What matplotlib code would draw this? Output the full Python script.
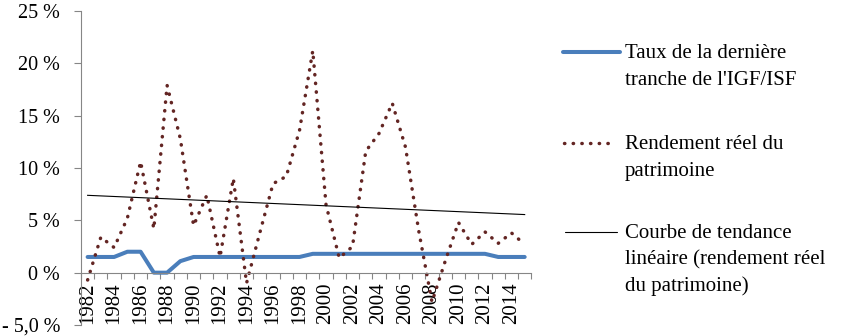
import numpy as np
import matplotlib
matplotlib.use('Agg')
import matplotlib.pyplot as plt
from matplotlib.lines import Line2D

plt.rcParams['font.family'] = ['Liberation Serif', 'DejaVu Serif']

# Data
years = np.arange(1982, 2016)
igf_isf = [1.5, 1.5, 1.5, 2.0, 2.0, 0.0, 0.0, 1.1, 1.5, 1.5, 1.5, 1.5, 1.5, 1.5, 1.5, 1.5, 1.5,
           1.8, 1.8, 1.8, 1.8, 1.8, 1.8, 1.8, 1.8, 1.8, 1.8, 1.8, 1.8, 1.8, 1.8,
           1.5, 1.5, 1.5]
rendement = [-0.7, 3.4, 2.4, 5.2, 10.6, 4.2, 17.9, 12.8, 4.5, 7.4, 1.5, 9.0, -1.0, 3.8,
             8.5, 9.2, 13.6, 21.2, 6.5, 1.4, 2.5, 11.6, 13.3, 16.2, 12.0, 4.0, -2.8, 1.1,
             4.8, 2.7, 3.9, 2.8, 3.8, 2.7]
ytick_vals = [-5, 0, 5, 10, 15, 20, 25]
ytick_labels = ['- 5,0 %', '0 %', '5 %', '10 %', '15 %', '20 %', '25 %']
legend_labels = ["Taux de la dernière\ntranche de l'IGF/ISF",
                 "Rendement réel du\npatrimoine",
                 "Courbe de tendance\nlinéaire (rendement réel\ndu patrimoine)"]

blue = '#4a7ebb'
maroon = '#632523'
grey = '#868686'
dots = (0, (0.1, 2.4))

W, H = 848, 336
def fx(x):
    return x / W
def fy(y):
    return 1 - y / H

fig = plt.figure(figsize=(W / 100, H / 100), dpi=100)
ax = fig.add_axes([fx(81), fy(325), (531.3 - 81) / W, (325 - 11) / H])

# linear trend of the real return
coef = np.polyfit(years, rendement, 1)
trend = np.polyval(coef, years)

ax.plot(years, igf_isf, color=blue, lw=2.9, solid_capstyle='round', solid_joinstyle='round')
ax.plot(years, rendement, color=maroon, lw=2.5, linestyle=dots, dash_capstyle='round')
ax.plot(years, trend, color='black', lw=0.8)

ax.set_xlim(years[0] - 0.5, years[-1] + 0.5)
ax.set_ylim(-5, 25)

for s in ['top', 'right']:
    ax.spines[s].set_visible(False)
ax.spines['left'].set_color(grey)
ax.spines['bottom'].set_color(grey)
ax.spines['bottom'].set_position(('data', 0))

ax.set_yticks(ytick_vals)
ax.set_yticklabels(ytick_labels)
ax.tick_params(axis='y', length=5, width=0.8, color=grey, pad=10, labelsize=14.5)

ax.set_xticks(years[::2])
ax.set_xticklabels([str(y) for y in years[::2]], rotation=90)
ax.set_xticks(np.arange(years[0] - 0.5, years[-1] + 1), minor=True)
ax.tick_params(axis='x', which='major', length=0, pad=7, labelsize=15)
ax.tick_params(axis='x', which='minor', length=4.5, width=0.8, color=grey)

# legend drawn at the right, handle next to the first line of each label
handles = [
    dict(color=blue, lw=2.9, ls='-', y=52, x0=563, x1=620),
    dict(color=maroon, lw=2.5, ls=dots, y=143, x0=564, x1=614),
    dict(color='black', lw=0.8, ls='-', y=232, x0=565, x1=617),
]
baselines = [58.5, 149, 238]
for h, lab, b in zip(handles, legend_labels, baselines):
    ln = Line2D([fx(h['x0']), fx(h['x1'])], [fy(h['y']), fy(h['y'])], color=h['color'],
                lw=h['lw'], linestyle=h['ls'], dash_capstyle='round',
                solid_capstyle='round', transform=fig.transFigure)
    fig.add_artist(ln)
    for i, line in enumerate(lab.split('\n')):
        fig.text(fx(625), fy(b + 26.6 * i), line, fontsize=15, va='baseline', ha='left')

fig.savefig('out.png', dpi=100, facecolor='white')
